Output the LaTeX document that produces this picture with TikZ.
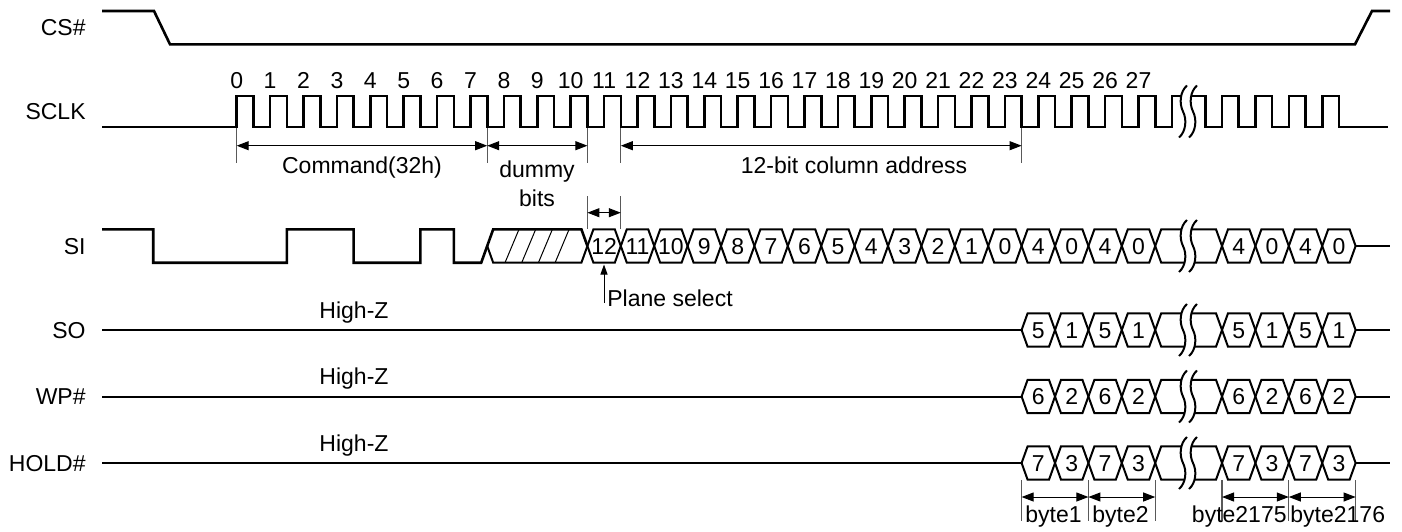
\documentclass[tikz,border=0pt]{standalone}
\usepackage{fontspec}
\setmainfont{Liberation Sans}
\usetikzlibrary{arrows.meta}
\newcommand\hexseq[4]{% #1 name prefix, #2 centre y, #3 start x, #4 labels
  \foreach \lab [count=\i from 0] in {#4} {
    \pgfmathsetmacro\xa{#3+\i*33.4}
    \pgfmathsetmacro\xb{#3+(\i+1)*33.4}
    \draw[bus] (\xa,#2) -- ({\xa+6},{#2-16.7}) -- ({\xb-6},{#2-16.7}) -- (\xb,#2) -- ({\xb-6},{#2+16.7}) -- ({\xa+6},{#2+16.7}) -- cycle;
    \node[lbl] (#1\i) at ({(\xa+\xb)/2},{#2+8.2}) {\lab};
  }}
\newcommand\openbus[1]{% centre y
  \draw[bus] (1155.2,#1) -- (1161.2,{#1-16.7}) -- (1216.0,{#1-16.7}) -- (1222.0,#1) -- (1216.0,{#1+16.7}) -- (1161.2,{#1+16.7}) -- cycle;
  \pic at (1183,#1) {brkmark};}
\begin{document}
\begin{tikzpicture}[x=0.5pt,y=-0.5pt,
  sig/.style={line width=1.3pt, line join=miter},
  bus/.style={line width=1pt, line join=miter},
  dim/.style={line width=0.5pt, {Triangle[length=6pt,width=4.5pt]}-{Triangle[length=6pt,width=4.5pt]}},
  tickln/.style={line width=0.55pt, black!65},
  lbl/.style={font=\fontsize{11.5}{13}\selectfont, inner sep=0pt, anchor=base},
  rowlbl/.style={lbl, anchor=base east},
  brkmark/.pic={
    \fill[white] (4,-26) .. controls (-3,-20) and (-4,-8) .. (0,0) .. controls (4,8) and (3,20) .. (-4,26) -- (6,26) .. controls (13,20) and (14,8) .. (10,0) .. controls (6,-8) and (7,-20) .. (14,-26) -- cycle;
    \draw[line width=1pt] (4,-26) .. controls (-3,-20) and (-4,-8) .. (0,0) .. controls (4,8) and (3,20) .. (-4,26);
    \draw[line width=1pt] (14,-26) .. controls (7,-20) and (6,-8) .. (10,0) .. controls (14,8) and (13,20) .. (6,26);
  }]
\useasboundingbox (0,0) rectangle (1402,531);

% row labels
\node[rowlbl] (lcs) at (86,35.7) {CS\#};
\node[rowlbl] (lsclk) at (86,119.7) {SCLK};
\node[rowlbl] (lsi) at (86,254.2) {SI};
\node[rowlbl] (lso) at (86,338.2) {SO};
\node[rowlbl] (lwp) at (86,404.7) {WP\#};
\node[rowlbl] (lhold) at (86,471.2) {HOLD\#};

% CS#
\draw[sig] (102,11) -- (154,11) -- (170,44.3) -- (1355,44.3) -- (1372,11) -- (1390,11);

% SCLK
\draw[sig] (102,127) -- (236.7,127)
  \foreach \n in {0,...,27} { -- ({236.7+\n*33.4},127) -- ({236.7+\n*33.4},96) -- ({253.4+\n*33.4},96) -- ({253.4+\n*33.4},127) }
  -- (1171.9,127) -- (1171.9,96) -- (1205.3,96) -- (1205.3,127)
  \foreach \k in {0,...,3} { -- ({1222.0+\k*33.4},127) -- ({1222.0+\k*33.4},96) -- ({1238.7+\k*33.4},96) -- ({1238.7+\k*33.4},127) }
  -- (1388,127);
\pic at (1183,111.5) {brkmark};
\foreach \n in {0,...,27} \node[lbl] (c\n) at ({236.7+\n*33.4},88) {\n};

% dimension lines at SCLK
\foreach \x/\nm in {236.7/ta,487.2/tb,587.4/tc,620.8/td,1021.6/te} {
  \coordinate (\nm1) at (\x,128); \coordinate (\nm2) at (\x,163);
  \draw[tickln] (\nm1) -- (\nm2);}
\coordinate (dA) at (236.7,145.7); \coordinate (dB) at (487.2,145.7);
\coordinate (dC) at (587.4,145.7); \coordinate (dD) at (620.8,145.7);
\coordinate (dE) at (1021.6,145.7);
\draw[dim] (dA) -- (dB);
\draw[dim] (dB) -- (dC);
\draw[dim] (dD) -- (dE);
\node[lbl] (tcmd) at (362,173) {Command(32h)};
\node[lbl] (tdum) at (537,177) {dummy};
\node[lbl] (tbits) at (537,206) {bits};
\node[lbl] (tcol) at (854,173) {12-bit column address};

% plane select dimension
\coordinate (pa1) at (587.4,196); \coordinate (pa2) at (587.4,229);
\coordinate (pb1) at (620.8,196); \coordinate (pb2) at (620.8,229);
\draw[tickln] (pa1) -- (pa2);
\draw[tickln] (pb1) -- (pb2);
\coordinate (pl) at (587.4,212.7); \coordinate (pr) at (620.8,212.7);
\draw[dim] (pl) -- (pr);

% SI
\draw[sig] (102,229.3) -- (153.2,229.3) -- (153.2,262.7) -- (286.8,262.7) -- (286.8,229.3) -- (353.6,229.3) -- (353.6,262.7) -- (420.4,262.7) -- (420.4,229.3) -- (453.8,229.3) -- (453.8,262.7) -- (481.2,262.7) -- (493.2,229.3) -- (581.4,229.3) -- (587.4,246);
\draw[bus] (487.2,246) -- (493.2,262.7) -- (581.4,262.7) -- (587.4,246);
\begin{scope}
  \clip (487.2,246) -- (493.2,229.3) -- (581.4,229.3) -- (587.4,246) -- (581.4,262.7) -- (493.2,262.7) -- cycle;
  \foreach \k in {0,...,3} \draw[line width=0.5pt] ({505+\k*16.7},262.7) -- ({519+\k*16.7},229.3);
\end{scope}
\hexseq{si}{246}{587.4}{12,11,10,9,8,7,6,5,4,3,2,1,0,4,0,4,0}
\openbus{246}
\hexseq{sj}{246}{1222.0}{4,0,4,0}
\draw[bus] (1355.6,246) -- (1390,246);

% Plane select
\node[lbl, anchor=base west] (ps) at (607,306) {Plane select};
\coordinate (psb) at (604,303); \coordinate (pst) at (604,264.5);
\draw[line width=0.5pt, -{Triangle[length=5pt,width=3.5pt]}] (psb) -- (pst);

% SO, WP#, HOLD#
\foreach \y/\a/\b/\nm in {330/5/1/so,396.5/6/2/wp,463/7/3/ho} {
  \draw[bus] (102,\y) -- (1021.6,\y);
  \hexseq{\nm a}{\y}{1021.6}{\a,\b,\a,\b}
  \openbus{\y}
  \hexseq{\nm b}{\y}{1222.0}{\a,\b,\a,\b}
  \draw[bus] (1355.6,\y) -- (1390,\y);
}
\node[lbl] (hz1) at (354,318) {High-Z};
\node[lbl] (hz2) at (354,384.5) {High-Z};
\node[lbl] (hz3) at (354,451) {High-Z};

% byte dimensions
\foreach \x/\nm in {1021.6/ba,1088.4/bb,1155.2/bc,1222.0/bd,1288.8/be,1355.6/bf} {
  \coordinate (\nm1) at (\x,480); \coordinate (\nm2) at (\x,521);
  \coordinate (\nm) at (\x,497);
  \draw[tickln] (\nm1) -- (\nm2);}
\draw[dim] (ba) -- (bb);
\draw[dim] (bb) -- (bc);
\draw[dim] (bd) -- (be);
\draw[dim] (be) -- (bf);
\node[lbl, anchor=base west] (by1) at (1025,522) {byte1};
\node[lbl, anchor=base west] (by2) at (1092,522) {byte2};
\node[lbl, anchor=base east] (by3) at (1287,522) {byte2175};
\node[lbl, anchor=base west] (by4) at (1290,522) {byte2176};
\end{tikzpicture}
\end{document}
